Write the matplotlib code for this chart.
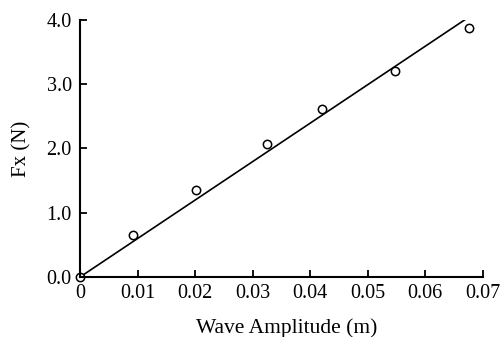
import matplotlib
matplotlib.use("Agg")
import matplotlib.pyplot as plt

# measured points (wave amplitude in m, force in N)
amp = [0.0, 0.0092, 0.0201, 0.0324, 0.0421, 0.0548, 0.0676]
fx = [0.0, 0.65, 1.36, 2.07, 2.62, 3.20, 3.88]

# fitted straight line
fit_x = [0.0, 0.0673]
fit_y = [0.0, 4.03]

xticks = [0, 0.01, 0.02, 0.03, 0.04, 0.05, 0.06, 0.07]
xlabels = ["0", "0.01", "0.02", "0.03", "0.04", "0.05", "0.06", "0.07"]
yticks = [0.0, 1.0, 2.0, 3.0, 4.0]
ylabels = ["0.0", "1.0", "2.0", "3.0", "4.0"]

plt.rcParams["font.family"] = ["Liberation Serif", "DejaVu Serif"]

fig = plt.figure(figsize=(5.02, 3.37), dpi=100)
ax = fig.add_axes([0.1594, 0.178, 0.8026, 0.7627])

ax.plot(fit_x, fit_y, color="black", lw=1.2)
ax.plot(amp, fx, "o", mfc="white", mec="black", ms=6, mew=1.1, clip_on=False)

ax.set_xlim(0, 0.07)
ax.set_ylim(0, 4.0)
ax.set_xticks(xticks)
ax.set_xticklabels(xlabels)
ax.set_yticks(yticks)
ax.set_yticklabels(ylabels)

for s in ["top", "right"]:
    ax.spines[s].set_visible(False)
for s in ["left", "bottom"]:
    ax.spines[s].set_linewidth(1.5)

ax.tick_params(direction="in", length=5, width=1.3, labelsize=14.5)
ax.tick_params(axis="x", pad=5)
ax.tick_params(axis="y", pad=6)

ax.set_xlabel("Wave Amplitude (m)", fontsize=15.5, labelpad=11)
ax.xaxis.label.set_x(0.513)
ax.set_ylabel("Fx (N)", fontsize=15, labelpad=11)

fig.savefig("out.png", dpi=100)
